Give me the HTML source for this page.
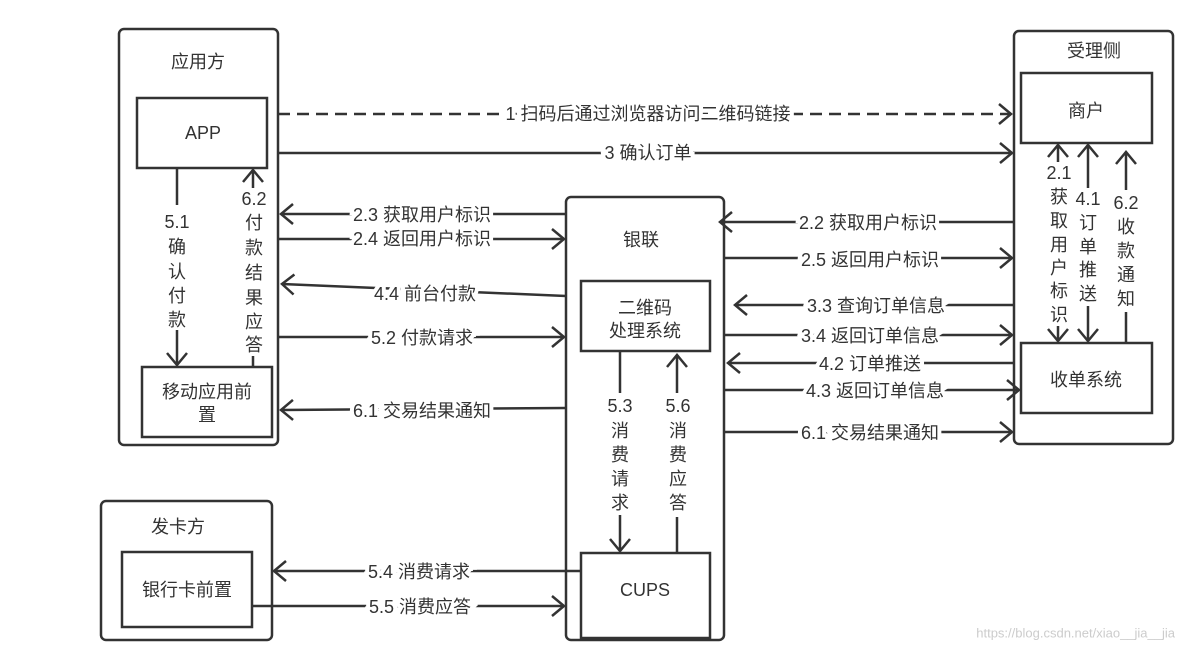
<!DOCTYPE html>
<html><head><meta charset="utf-8"><style>
body{margin:0;background:#fff}
svg text{font-family:"Liberation Sans","Noto Sans CJK SC",sans-serif;font-size:18px;fill:#333;text-anchor:middle;dominant-baseline:central}
.l{paint-order:stroke;stroke:#fff;stroke-width:8px}
</style></head><body>
<svg width="1185" height="650" viewBox="0 0 1185 650" xmlns="http://www.w3.org/2000/svg">
<defs><marker id="a" markerWidth="16" markerHeight="22" refX="13" refY="11" orient="auto" markerUnits="userSpaceOnUse"><path d="M1,1 L13,11 L1,21" fill="none" stroke="#333" stroke-width="2.5"/></marker></defs>
<g fill="none" stroke="#333" stroke-width="2.5">
<rect x="119" y="29" width="159" height="416" rx="5"/>
<rect x="137" y="98" width="130" height="70"/>
<rect x="142" y="367" width="130" height="70"/>
<rect x="1014" y="31" width="159" height="413" rx="5"/>
<rect x="1021" y="73" width="131" height="70"/>
<rect x="1021" y="343" width="131" height="70"/>
<rect x="566" y="197" width="158" height="443" rx="5"/>
<rect x="581" y="281" width="129" height="70"/>
<rect x="581" y="553" width="129" height="85"/>
<rect x="101" y="501" width="171" height="139" rx="5"/>
<rect x="122" y="552" width="130" height="75"/>
<line x1="177" y1="168" x2="177" y2="205"/>
<line x1="253" y1="356" x2="253" y2="367"/>
<line x1="1126" y1="343" x2="1126" y2="312"/>
<line x1="677" y1="553" x2="677" y2="517"/>
<line x1="620" y1="351" x2="620" y2="393"/>
</g>
<g fill="none" stroke="#333" stroke-width="2.5" marker-end="url(#a)">
<line x1="278" y1="114" x2="1011" y2="114" stroke-dasharray="12,7"/>
<line x1="278" y1="153" x2="1012" y2="153"/>
<line x1="566" y1="214" x2="281" y2="214"/>
<line x1="278" y1="239" x2="564" y2="239"/>
<line x1="566" y1="296" x2="282" y2="284"/>
<line x1="278" y1="337" x2="564" y2="337"/>
<line x1="566" y1="408" x2="281" y2="410"/>
<line x1="1014" y1="222" x2="720" y2="222"/>
<line x1="724" y1="258" x2="1012" y2="258"/>
<line x1="1014" y1="305" x2="735" y2="305"/>
<line x1="724" y1="335" x2="1012" y2="335"/>
<line x1="1014" y1="363" x2="728" y2="363"/>
<line x1="724" y1="390" x2="1019" y2="390"/>
<line x1="724" y1="432" x2="1012" y2="432"/>
<line x1="177" y1="330" x2="177" y2="365"/>
<line x1="253" y1="188" x2="253" y2="170"/>
<line x1="1058" y1="162" x2="1058" y2="145"/>
<line x1="1058" y1="326" x2="1058" y2="341"/>
<line x1="1088" y1="188" x2="1088" y2="145"/>
<line x1="1088" y1="306" x2="1088" y2="341"/>
<line x1="1126" y1="190" x2="1126" y2="152"/>
<line x1="620" y1="515" x2="620" y2="551"/>
<line x1="677" y1="393" x2="677" y2="355"/>
<line x1="580" y1="571" x2="274" y2="571"/>
<line x1="252" y1="606" x2="564" y2="606"/>
</g>
<text x="198" y="62">应用方</text>
<text x="203" y="133">APP</text>
<text x="207" y="392">移动应用前</text><text x="207" y="415">置</text>
<text x="1094" y="51">受理侧</text>
<text x="1086" y="111">商户</text>
<text x="1086" y="380">收单系统</text>
<text x="641" y="240">银联</text>
<text x="645" y="308">二维码</text><text x="645" y="331">处理系统</text>
<text x="645" y="590">CUPS</text>
<text x="178" y="527">发卡方</text>
<text x="187" y="590">银行卡前置</text>
<text x="648" y="114" class="l">1 扫码后通过浏览器访问二维码链接</text>
<text x="648" y="153" class="l">3 确认订单</text>
<text x="422" y="215" class="l">2.3 获取用户标识</text>
<text x="422" y="239" class="l">2.4 返回用户标识</text>
<text x="425" y="294" class="l">4.4 前台付款</text>
<text x="422" y="338" class="l">5.2 付款请求</text>
<text x="422" y="411" class="l">6.1 交易结果通知</text>
<text x="868" y="223" class="l">2.2 获取用户标识</text>
<text x="870" y="260" class="l">2.5 返回用户标识</text>
<text x="876" y="306" class="l">3.3 查询订单信息</text>
<text x="870" y="336" class="l">3.4 返回订单信息</text>
<text x="870" y="364" class="l">4.2 订单推送</text>
<text x="875" y="391" class="l">4.3 返回订单信息</text>
<text x="870" y="433" class="l">6.1 交易结果通知</text>
<text x="419" y="572" class="l">5.4 消费请求</text>
<text x="420" y="607" class="l">5.5 消费应答</text>
<text x="177" y="222">5.1</text><text x="177" y="247">确</text><text x="177" y="272">认</text><text x="177" y="296">付</text><text x="177" y="320">款</text>
<text x="254" y="199">6.2</text><text x="254" y="223">付</text><text x="254" y="248">款</text><text x="254" y="273">结</text><text x="254" y="298">果</text><text x="254" y="322">应</text><text x="254" y="345">答</text>
<text x="1059" y="173">2.1</text><text x="1059" y="197">获</text><text x="1059" y="221">取</text><text x="1059" y="245">用</text><text x="1059" y="268">户</text><text x="1059" y="291">标</text><text x="1059" y="315">识</text>
<text x="1088" y="199">4.1</text><text x="1088" y="223">订</text><text x="1088" y="247">单</text><text x="1088" y="270">推</text><text x="1088" y="294">送</text>
<text x="1126" y="203">6.2</text><text x="1126" y="227">收</text><text x="1126" y="251">款</text><text x="1126" y="275">通</text><text x="1126" y="299">知</text>
<text x="620" y="406">5.3</text><text x="620" y="431">消</text><text x="620" y="455">费</text><text x="620" y="479">请</text><text x="620" y="503">求</text>
<text x="678" y="406">5.6</text><text x="678" y="431">消</text><text x="678" y="455">费</text><text x="678" y="479">应</text><text x="678" y="503">答</text>
<text x="1175" y="633" style="font-size:13px;fill:#ccc;text-anchor:end">https://blog.csdn.net/xiao__jia__jia</text>
</svg>
</body></html>
